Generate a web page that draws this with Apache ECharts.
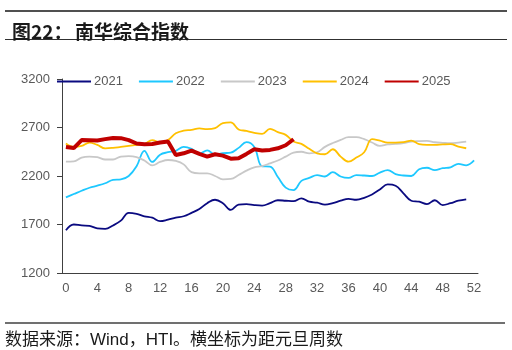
<!DOCTYPE html>
<html>
<head>
<meta charset="utf-8">
<script src="https://cdn.jsdelivr.net/npm/echarts@6/dist/echarts.min.js"></script>
<style>
  html, body { margin: 0; padding: 0; background: #fff; }
  #chart { width: 512px; height: 350px; }
</style>
</head>
<body>
<div id="chart"></div>
<script>
// weeks since new year (x axis categories)
const weeks = ['0','1','2','3','4','5','6','7','8','9','10','11','12','13','14','15','16','17','18','19','20',
  '21','22','23','24','25','26','27','28','29','30','31','32','33','34','35','36','37','38','39','40',
  '41','42','43','44','45','46','47','48','49','50','51','52'];

const y2021 = [1640,1700,1690,1685,1660,1655,1690,1740,1820,1810,1785,1770,1735,1750,1770,1785,1820,1860,1920,1955,
  1920,1850,1905,1910,1900,1895,1920,1950,1945,1940,1970,1935,1925,1905,1920,1945,1965,1955,1975,2010,
  2062,2114,2100,2021,1945,1935,1910,1950,1900,1920,1945,1960];
const y2022 = [1980,2014,2048,2079,2100,2125,2160,2165,2200,2300,2460,2345,2420,2445,2460,2500,2480,2430,2465,2420,
  2435,2440,2490,2550,2500,2300,2297,2190,2080,2055,2150,2180,2210,2195,2240,2195,2180,2210,2205,2200,
  2235,2260,2220,2205,2200,2270,2285,2260,2280,2290,2325,2310,2360];
const y2023 = [2348,2350,2390,2400,2395,2370,2370,2400,2405,2395,2360,2310,2345,2365,2355,2320,2240,2228,2228,2200,
  2166,2170,2210,2255,2290,2303,2330,2360,2400,2441,2450,2434,2445,2500,2540,2572,2600,2600,2580,2545,
  2510,2525,2531,2540,2555,2560,2562,2548,2542,2538,2545,2555];
const y2024 = [2535,2500,2510,2545,2520,2485,2490,2500,2510,2520,2530,2570,2545,2570,2640,2668,2676,2690,2683,2693,
  2745,2752,2680,2665,2645,2634,2686,2652,2624,2555,2531,2480,2434,2424,2476,2400,2348,2390,2445,2580,
  2565,2545,2545,2550,2565,2528,2521,2521,2525,2528,2503,2486];
const y2025 = [2500,2488,2570,2568,2566,2580,2592,2590,2570,2535,2528,2530,2545,2555,2417,2434,2462,2428,2400,2424,
  2410,2379,2383,2428,2475,2462,2469,2486,2517,2579];

const yearNames = ['2021','2022','2023','2024','2025'];
const yearData = [y2021, y2022, y2023, y2024, y2025];
const yearColors = ['#0a0a80','#1ec8ff','#c8c8c8','#ffc000','#c00000'];

const yTicks = { min: 1200, max: 3200, step: 500 };

const labelFont = "'Liberation Sans', Arial, sans-serif";
const cjkFont = "'Liberation Sans', 'Noto Sans CJK SC', sans-serif";

const series = yearNames.map(function(name, i) {
  const last = i === 4;
  return {
    name: name,
    type: 'line',
    data: yearData[i],
    symbol: 'none',
    smooth: last ? false : 0.4,
    z: last ? 10 : 2 + i,
    lineStyle: { color: yearColors[i], width: last ? 4 : 1.8 },
    itemStyle: { color: yearColors[i] }
  };
});

const chart = echarts.init(document.getElementById('chart'), null, { renderer: 'canvas' });

chart.setOption({
  animation: false,
  backgroundColor: '#fff',
  title: [
    { text: '图22：', left: 7, top: 17, textStyle: { fontFamily: "'Noto Sans CJK SC', sans-serif", fontSize: 19, fontWeight: 'bold', color: '#1a1a1a' } },
    { text: '南华综合指数', left: 70, top: 17, textStyle: { fontFamily: "'Noto Sans CJK SC', sans-serif", fontSize: 19, fontWeight: 'bold', color: '#1a1a1a' } },
    { text: '数据来源：Wind，HTI。横坐标为距元旦周数', left: 0, top: 327, padding: [5, 5, 5, 5], textStyle: { fontFamily: cjkFont, fontSize: 17, fontWeight: 'normal', color: '#1a1a1a' } }
  ],
  graphic: [
    { type: 'line', shape: { x1: 5, y1: 11, x2: 507, y2: 11 }, style: { stroke: '#505050', lineWidth: 2 } },
    { type: 'line', shape: { x1: 5, y1: 39.5, x2: 507, y2: 39.5 }, style: { stroke: '#303030', lineWidth: 1 } },
    { type: 'line', shape: { x1: 5, y1: 323, x2: 505, y2: 323 }, style: { stroke: '#707070', lineWidth: 2 } }
  ],
  legend: {
    data: yearNames,
    left: 56,
    top: 75,
    padding: 0,
    itemWidth: 34,
    itemHeight: 14,
    itemGap: 15,
    itemStyle: { color: 'transparent', borderWidth: 0 },
    textStyle: { fontFamily: labelFont, fontSize: 13, color: '#595959', padding: [0, 0, 0, -2] }
  },
  grid: { left: 62, right: 34, top: 79, bottom: 77 },
  xAxis: {
    type: 'category',
    data: weeks,
    boundaryGap: true,
    axisLine: { lineStyle: { color: '#404040', width: 1 } },
    axisTick: { interval: 3, inside: true, length: 3, lineStyle: { color: '#404040' } },
    axisLabel: { interval: 3, fontFamily: labelFont, fontSize: 13, color: '#595959', margin: 9 },
    splitLine: { show: false }
  },
  yAxis: {
    type: 'value',
    min: yTicks.min,
    max: yTicks.max,
    interval: yTicks.step,
    axisLine: { show: true, lineStyle: { color: '#404040', width: 1 } },
    axisTick: { show: true, length: 5, lineStyle: { color: '#404040' } },
    axisLabel: { fontFamily: labelFont, fontSize: 13, color: '#595959', margin: 12, formatter: function(v) { return String(v); } },
    splitLine: { show: false }
  },
  series: series
});
</script>
</body>
</html>
